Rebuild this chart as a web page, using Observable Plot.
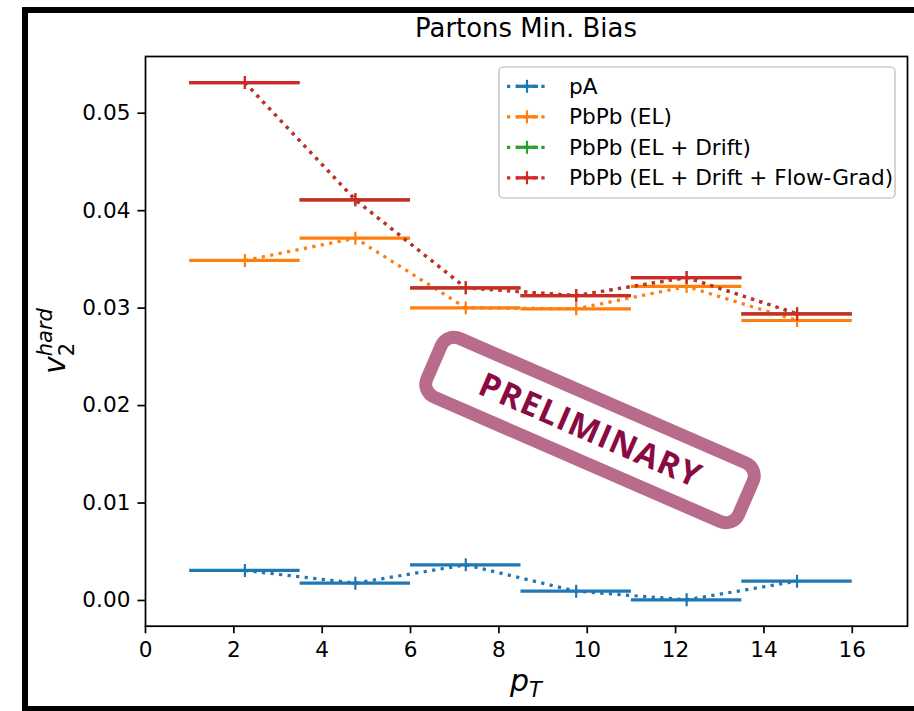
<!DOCTYPE html>
<html><head><meta charset="utf-8">
<script src="https://cdn.jsdelivr.net/npm/d3@7"></script>
<script src="https://cdn.jsdelivr.net/npm/@observablehq/plot@0.6"></script>
<style>
html,body{margin:0;padding:0;background:#fff;overflow:hidden;}
#chart{width:914px;height:711px;}
</style></head><body><div id="chart"></div>
<script>
// ---- data ----
const binLow = [1, 3.5, 6, 8.5, 11, 13.5];
const binHigh = [3.5, 6, 8.5, 11, 13.5, 16];
const binCenter = [2.25, 4.75, 7.25, 9.75, 12.25, 14.75];
const seriesNames = ["pA", "PbPb (EL)", "PbPb (EL + Drift)", "PbPb (EL + Drift + Flow-Grad)"];
const seriesColors = ["#1f77b4", "#ff7f0e", "#2ca02c", "#d62728"];
const v2pA = [0.00308, 0.00178, 0.00366, 0.00095, 0.00007, 0.00198];
const v2EL = [0.03489, 0.03718, 0.03003, 0.02993, 0.03222, 0.02873];
const v2ELDrift = [0.05315, 0.04111, 0.03208, 0.03129, 0.03314, 0.02942];
const v2ELDriftFlow = [0.05315, 0.04111, 0.03208, 0.03129, 0.03314, 0.02942];
const xTicks = [0, 2, 4, 6, 8, 10, 12, 14, 16];
const yTicks = [0, 0.01, 0.02, 0.03, 0.04, 0.05];
const titleText = "Partons Min. Bias";
const stampText = "PRELIMINARY";

const seriesValues = [v2pA, v2EL, v2ELDrift, v2ELDriftFlow];
const rows = seriesValues.flatMap((vals, s) =>
  vals.map((v, i) => ({ s, series: seriesNames[s], x: binCenter[i], lo: binLow[i], hi: binHigh[i], v })));

const plusSymbol = {
  draw(ctx, size) {
    const r = Math.sqrt(size / Math.PI);
    ctx.moveTo(-r, 0); ctx.lineTo(r, 0);
    ctx.moveTo(0, -r); ctx.lineTo(0, r);
  }
};

const LW = 3.24;
const DASH = "3.24,5.35";
const dataMarks = [];
seriesNames.forEach((name, s) => {
  const d = rows.filter(r => r.s === s);
  dataMarks.push(Plot.ruleY(d, { y: "v", x1: "lo", x2: "hi", stroke: seriesColors[s], strokeWidth: LW, strokeLinecap: "butt" }));
  dataMarks.push(Plot.line(d, { x: "x", y: "v", stroke: seriesColors[s], strokeWidth: LW, strokeDasharray: DASH, strokeLinecap: "butt", curve: "linear" }));
  dataMarks.push(Plot.dot(d, { x: "x", y: "v", symbol: plusSymbol, r: 6.5, stroke: seriesColors[s], strokeWidth: 2.2, fill: "none" }));
});

const chart = Plot.plot({
  width: 914, height: 711,
  marginLeft: 145, marginRight: 7, marginTop: 56, marginBottom: 85.3,
  x: { domain: [0, 17.25] },
  y: { domain: [-0.00264, 0.05582] },
  style: { fontFamily: "DejaVu Sans", fontSize: "21.6px", background: "#fff", color: "#000", overflow: "visible" },
  marks: [
    Plot.axisX({ ticks: xTicks, tickSize: 7.56, tickPadding: 8, strokeWidth: 1.7, label: null, fontSize: 21.6 }),
    Plot.axisY({ ticks: yTicks, tickFormat: d3.format(".2f"), tickSize: 7.56, tickPadding: 7.56, strokeWidth: 1.7, label: null, fontSize: 21.6 }),
    ...dataMarks,
    Plot.frame({ stroke: "#000", strokeWidth: 1.73 })
  ]
});
document.getElementById("chart").appendChild(chart);

// ---- annotations ----
const svg = d3.select(chart);

// title
svg.append("text").attr("x", 526).attr("y", 37).attr("text-anchor", "middle")
  .attr("font-size", 25.9).attr("fill", "#000").text(titleText);

// x label p_T
const xl = svg.append("text").attr("x", 526).attr("y", 691).attr("text-anchor", "middle")
  .attr("font-size", 30).attr("font-style", "italic").attr("fill", "#000");
xl.append("tspan").text("p");
xl.append("tspan").attr("font-size", 21).attr("dy", 6).text("T");

// y label v_2^hard
const yl = svg.append("g").attr("transform", "translate(65,341) rotate(-90)").attr("fill", "#000").attr("text-anchor", "start");
yl.append("text").attr("text-anchor", "start").attr("x", -33).attr("y", 0).attr("font-size", 30).attr("font-style", "italic").text("v");
yl.append("text").attr("text-anchor", "start").attr("x", -15.2).attr("y", 9).attr("font-size", 21).text("2");
yl.append("text").attr("text-anchor", "start").attr("x", -15.2).attr("y", -13).attr("font-size", 21).attr("font-style", "italic").text("hard");

// legend
const lg = svg.append("g").attr("text-anchor", "start");
lg.append("rect").attr("x", 499).attr("y", 67).attr("width", 396).attr("height", 131).attr("rx", 4.3)
  .attr("fill", "#fff").attr("fill-opacity", 0.8).attr("stroke", "#cccccc").attr("stroke-width", 1.7);
seriesNames.forEach((n, i) => {
  const cy = 86.3 + i * 30.5;
  const c = seriesColors[i];
  lg.append("line").attr("x1", 507).attr("x2", 547).attr("y1", cy).attr("y2", cy)
    .attr("stroke", c).attr("stroke-width", LW).attr("stroke-dasharray", DASH);
  lg.append("line").attr("x1", 516).attr("x2", 538).attr("y1", cy).attr("y2", cy)
    .attr("stroke", c).attr("stroke-width", LW);
  lg.append("line").attr("x1", 527).attr("x2", 527).attr("y1", cy - 6.5).attr("y2", cy + 6.5)
    .attr("stroke", c).attr("stroke-width", 2.2);
  lg.append("text").attr("text-anchor", "start").attr("x", 569).attr("y", cy + 7.6).attr("font-size", 21.6).attr("fill", "#000").text(n);
});

// PRELIMINARY stamp
const st = svg.append("g").attr("transform", "translate(590,430) rotate(23.5)");
st.append("rect").attr("x", -170).attr("y", -32).attr("width", 340).attr("height", 64).attr("rx", 14)
  .attr("fill", "none").attr("stroke", "#b96b8b").attr("stroke-width", 13);
st.append("text").attr("x", 0).attr("y", 11.5).attr("text-anchor", "middle")
  .attr("font-family", "Open Sans").attr("font-weight", 700).attr("font-size", 33)
  .attr("fill", "#8a0b43").attr("textLength", 238).attr("lengthAdjust", "spacing").text(stampText);

// outer black border
svg.append("rect").attr("x", 25).attr("y", 10).attr("width", 893).attr("height", 699)
  .attr("fill", "none").attr("stroke", "#000").attr("stroke-width", 6);
</script>
</body></html>
